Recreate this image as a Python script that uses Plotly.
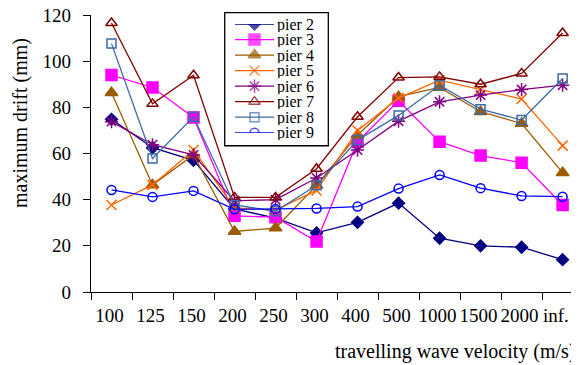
import plotly.graph_objects as go

velocities = ["100", "125", "150", "200", "250", "300", "400", "500", "1000", "1500", "2000", "inf."]

pier2 = [74.8, 62.5, 57.0, 36.0, 32.0, 25.6, 30.2, 38.5, 23.3, 20.0, 19.4, 14.0]
pier3 = [94.0, 88.6, 75.6, 33.0, 32.4, 21.9, 65.1, 82.8, 65.1, 59.1, 56.0, 37.7]
pier4 = [86.3, 46.4, 59.4, 26.2, 27.7, 46.2, 68.0, 84.6, 88.6, 78.1, 73.0, 51.7]
pier5 = [37.7, 46.4, 61.5, 36.4, 35.5, 44.0, 70.0, 84.0, 91.8, 87.8, 83.6, 63.4]
pier6 = [73.8, 63.8, 59.4, 39.5, 40.0, 49.4, 61.5, 74.0, 82.4, 85.3, 87.7, 89.6]
pier7 = [116.5, 81.5, 93.9, 41.0, 41.0, 53.4, 75.9, 92.9, 93.2, 90.0, 94.7, 112.2]
pier8 = [107.6, 57.8, 75.9, 37.7, 35.0, 46.2, 65.8, 76.5, 89.6, 79.2, 74.5, 92.5]
pier9 = [44.2, 41.2, 43.8, 35.8, 36.0, 36.2, 37.0, 44.8, 50.7, 45.0, 41.6, 41.3]

names = ["pier 2", "pier 3", "pier 4", "pier 5", "pier 6", "pier 7", "pier 8", "pier 9"]
series = [pier2, pier3, pier4, pier5, pier6, pier7, pier8, pier9]
colors = ["#000080", "#FF00FF", "#9C5B00", "#FF6600", "#800080", "#800000", "#3D6AA8", "#0000FF"]
symbols = ["diamond", "square", "triangle-up", "x-thin", "asterisk", "triangle-up-open", "square-open", "circle-open"]
sizes = [9, 11, 11, 10, 11, 10, 9, 9]

FONT = "Liberation Serif, Times New Roman, serif"

# tick label text (last label nudged left like the reference)
tick_text = velocities[:-1] + [velocities[-1] + "\u00a0\u00a0"]

fig = go.Figure()

for name, ys, col, sym, sz in zip(names, series, colors, symbols, sizes):
    fig.add_trace(go.Scatter(
        x=velocities, y=ys, mode="lines+markers", name=name,
        line=dict(color=col, width=1.3),
        marker=dict(symbol=sym, size=sz, color=col,
                    line=dict(color=col, width=1.5)),
        showlegend=False, xaxis="x", yaxis="y",
    ))

# custom legend (inset axes)
for i, (name, col, sym, sz) in enumerate(zip(names, colors, symbols, sizes)):
    fig.add_trace(go.Scatter(
        x=[0, 1, 2], y=[i, i, i], mode="lines+markers",
        line=dict(color=col, width=1.3),
        marker=dict(symbol=sym, size=[0, sz, 0], color=col,
                    line=dict(color=col, width=1.5)),
        showlegend=False, xaxis="x2", yaxis="y2", hoverinfo="skip",
    ))
    fig.add_annotation(x=2, y=i, xref="x2", yref="y2", text=name,
                       showarrow=False, xanchor="left", yanchor="middle",
                       xshift=2, height=15, borderpad=0,
                       font=dict(family=FONT, size=16, color="black"))

fig.add_shape(type="rect", xref="paper", yref="paper",
              x0=0.274, x1=0.4863, y0=0.528, y1=1.0083,
              line=dict(color="black", width=1.3), fillcolor="white", layer="below")

fig.add_annotation(text="maximum drift (mm)", xref="paper", yref="paper",
                   x=-0.1455, y=0.61, textangle=-90, showarrow=False,
                   xanchor="center", yanchor="middle",
                   font=dict(family=FONT, size=20, color="black"))
fig.add_annotation(text="travelling wave velocity (m/s)", xref="paper", yref="paper",
                   x=0.996, y=-0.2166, showarrow=False,
                   xanchor="right", yanchor="middle",
                   font=dict(family=FONT, size=20, color="black"))

fig.update_layout(
    width=571, height=357,
    margin=dict(l=83, r=0, t=7, b=73),
    paper_bgcolor="white", plot_bgcolor="white",
    font=dict(family=FONT, size=19, color="black"),
    xaxis=dict(type="category", categoryorder="array", categoryarray=velocities,
               tickmode="array", tickvals=velocities, ticktext=tick_text,
               range=[-0.5, 11.4], tickson="boundaries", ticks="outside", ticklen=7,
               tickwidth=1.3, tickcolor="black", showline=True, linecolor="black",
               linewidth=1.3, showgrid=False, zeroline=False, ticklabelstandoff=6,
               ticklabelshift=-2, tickangle=0, automargin=False,
               ticklabeloverflow="allow",
               tickfont=dict(family=FONT, size=19, color="black")),
    yaxis=dict(range=[0, 120], dtick=20, ticks="outside", ticklen=7, tickwidth=1.3,
               tickcolor="black", showline=True, linecolor="black", linewidth=1.3,
               showgrid=False, zeroline=False, ticklabelstandoff=8, automargin=False,
               ticklabeloverflow="allow",
               tickfont=dict(family=FONT, size=19, color="black")),
    xaxis2=dict(domain=[0.2951, 0.375], range=[0, 2], visible=False, anchor="y2",
                fixedrange=True),
    yaxis2=dict(domain=[0.5751, 0.9675], range=[7, 0], visible=False, anchor="x2",
                fixedrange=True),
)

fig.write_html("out.html")
